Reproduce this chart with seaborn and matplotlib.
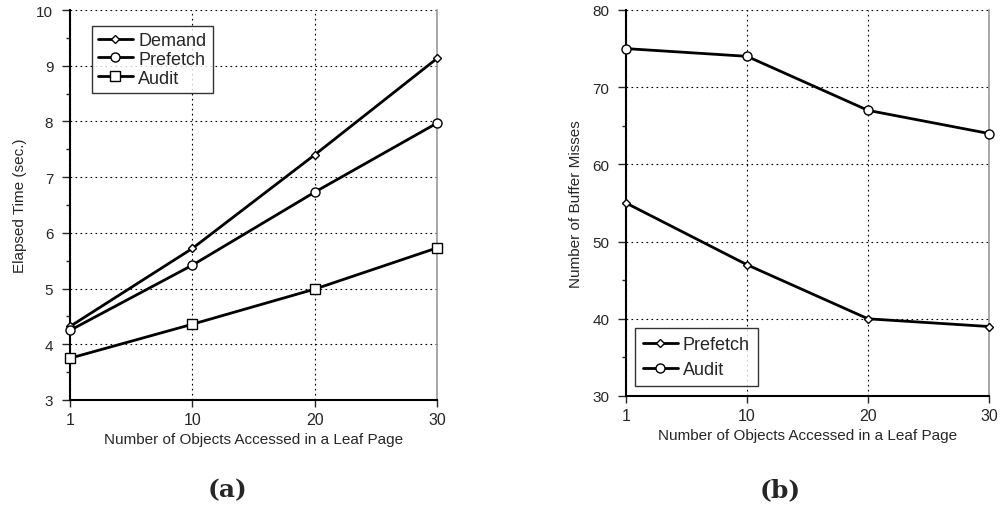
import matplotlib
matplotlib.use("Agg")
import matplotlib.pyplot as plt
import seaborn as sns
import pandas as pd
from matplotlib.ticker import MultipleLocator

# valori
x_labels = ["1", "10", "20", "30"]
demand_time = [4.32, 5.72, 7.40, 9.13]
prefetch_time = [4.25, 5.42, 6.73, 7.97]
audit_time = [3.75, 4.36, 4.99, 5.73]
prefetch_miss = [55, 47, 40, 39]
audit_miss = [75, 74, 67, 64]

sns.set_style("white")
plt.rcParams["font.family"] = ["Liberation Sans", "DejaVu Sans"]

def long_df(series):
    rows = []
    for name, vals in series.items():
        for i, v in enumerate(vals):
            rows.append({"pos": i, "value": v, "series": name})
    return pd.DataFrame(rows)

df_a = long_df({"Demand": demand_time, "Prefetch": prefetch_time, "Audit": audit_time})
df_b = long_df({"Prefetch": prefetch_miss, "Audit": audit_miss})

fig = plt.figure(figsize=(10.02, 5.10), dpi=100)
ax1 = fig.add_axes([70 / 1002, 1 - 401 / 510, 367 / 1002, 390 / 510])
ax2 = fig.add_axes([626 / 1002, 1 - 397 / 510, 363 / 1002, 386 / 510])

def style_axis(ax, ylim, major, minor, ylabel):
    ax.set_xlim(0, 3)
    ax.set_ylim(*ylim)
    ax.set_xticks(range(4))
    ax.set_xticklabels(x_labels)
    ax.yaxis.set_major_locator(MultipleLocator(major))
    ax.yaxis.set_minor_locator(MultipleLocator(minor))
    ax.grid(True, which="major", color="black", linestyle=(0, (1.5, 3)), linewidth=0.8)
    for s in ["left", "bottom"]:
        ax.spines[s].set_color("black")
        ax.spines[s].set_linewidth(1.5)
    ax.spines["top"].set_visible(False)
    ax.spines["right"].set_color("#999999")
    ax.spines["right"].set_linewidth(1.2)
    ax.tick_params(axis="y", which="major", direction="out", length=6, width=1, labelsize=11, left=True, pad=6)
    ax.tick_params(axis="y", which="minor", direction="out", length=3, width=1, left=True)
    ax.tick_params(axis="x", which="major", direction="out", length=5, width=1, labelsize=11.5, bottom=True)
    ax.set_xlabel("Number of Objects Accessed in a Leaf Page", fontsize=11, labelpad=4)
    ax.set_ylabel(ylabel, fontsize=11, labelpad=7, family=["Liberation Sans Narrow", "Liberation Sans"])

markers_a = {"Demand": "D", "Prefetch": "o", "Audit": "s"}
sizes_a = {"Demand": 4.5, "Prefetch": 6.5, "Audit": 7}
for name in ["Demand", "Prefetch", "Audit"]:
    sub = df_a[df_a["series"] == name]
    sns.lineplot(data=sub, x="pos", y="value", ax=ax1, color="black", linewidth=2,
                 marker=markers_a[name], markersize=sizes_a[name], markerfacecolor="white",
                 markeredgecolor="black", markeredgewidth=1, label=name, clip_on=False, zorder=3)

markers_b = {"Prefetch": "D", "Audit": "o"}
sizes_b = {"Prefetch": 4.5, "Audit": 6.5}
for name in ["Prefetch", "Audit"]:
    sub = df_b[df_b["series"] == name]
    sns.lineplot(data=sub, x="pos", y="value", ax=ax2, color="black", linewidth=2,
                 marker=markers_b[name], markersize=sizes_b[name], markerfacecolor="white",
                 markeredgecolor="black", markeredgewidth=1, label=name, clip_on=False, zorder=3)

style_axis(ax1, (3, 10), 1, 0.5, "Elapsed Time (sec.)")
style_axis(ax2, (30, 80), 10, 5, "Number of Buffer Misses")

leg1 = ax1.legend(loc="upper left", bbox_to_anchor=(0.06, 0.96), fontsize=13, frameon=True,
                  fancybox=False, edgecolor="black", handlelength=1.9, handletextpad=0.3,
                  labelspacing=0.1, borderpad=0.35, borderaxespad=0)
leg1.get_frame().set_linewidth(1)
leg2 = ax2.legend(loc="lower left", bbox_to_anchor=(0.025, 0.025), fontsize=13, frameon=True,
                  fancybox=False, edgecolor="black", handlelength=1.9, handletextpad=0.3,
                  labelspacing=0.45, borderpad=0.45, borderaxespad=0)
leg2.get_frame().set_linewidth(1)

fig.text(228 / 1002, 1 - 490 / 510, "(a)", fontsize=18, fontweight="bold",
         family="DejaVu Serif", ha="center", va="center")
fig.text(780 / 1002, 1 - 490 / 510, "(b)", fontsize=18, fontweight="bold",
         family="DejaVu Serif", ha="center", va="center")

fig.savefig("out.png", dpi=100)
